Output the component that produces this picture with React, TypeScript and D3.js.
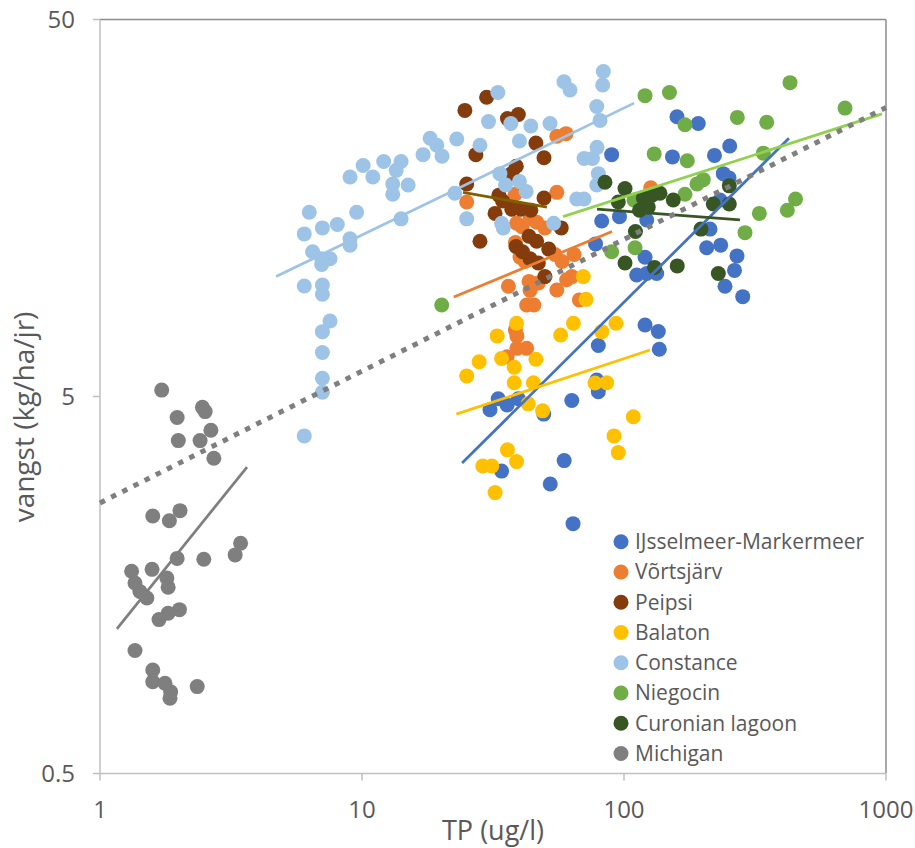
import React from "react";
import * as d3 from "d3";

// Lakes, in legend order
const lakes = [
  "IJsselmeer-Markermeer",
  "Võrtsjärv",
  "Peipsi",
  "Balaton",
  "Constance",
  "Niegocin",
  "Curonian lagoon",
  "Michigan",
];

// Observations per lake: [TP (ug/l), vangst (kg/ha/jr)]
const ijsselmeer = [
  [159.3, 27.6], [192.1, 26.5], [89.7, 21.9], [153.1, 21.6], [221.5, 21.8], [253.2, 23.1],
  [239.3, 19.5], [251.6, 19.0], [82.2, 14.6], [96.1, 15.0], [122.1, 14.7], [212.9, 13.9],
  [206.8, 12.4], [233.9, 12.6], [270.0, 11.8], [232.5, 16.6], [120.3, 11.7], [111.8, 10.5],
  [122.1, 10.6], [133.3, 10.6], [264.1, 10.8], [242.9, 9.8], [283.9, 9.2], [77.9, 12.7],
  [120.3, 7.74], [135.2, 7.44], [136.4, 6.67], [79.8, 6.83], [78.7, 5.53], [79.8, 5.15],
  [30.8, 4.61], [33.1, 4.93], [35.8, 4.75], [39.5, 4.93], [63.2, 4.88], [49.4, 4.49],
  [59.1, 3.38], [34.1, 3.17], [52.3, 2.93], [63.9, 2.3],
];
const vortsjarv = [
  [55.4, 24.5], [60.1, 24.9], [25.1, 16.4], [38.4, 17.2], [55.4, 17.4], [38.9, 14.4],
  [40.8, 14.1], [43.8, 14.8], [46.4, 14.5], [49.9, 14.0], [38.5, 12.8], [40.1, 11.7],
  [41.9, 11.4], [54.5, 11.9], [58.0, 11.4], [64.5, 11.9], [36.2, 9.8], [43.4, 10.1],
  [43.8, 9.55], [47.1, 10.0], [55.4, 9.58], [60.4, 10.2], [63.2, 10.4], [42.5, 8.74],
  [45.3, 8.74], [67.6, 9.02], [38.5, 7.51], [39.0, 7.24], [39.0, 6.71], [42.5, 6.71],
  [35.8, 6.37], [126.5, 17.9],
];
const peipsi = [
  [24.7, 28.7], [29.9, 31.1], [35.9, 27.3], [39.5, 28.0], [27.2, 21.9], [46.1, 23.5],
  [49.5, 21.5], [38.8, 20.4], [37.3, 19.5], [25.1, 18.3], [33.3, 17.1], [34.4, 16.5],
  [49.5, 16.8], [32.2, 15.3], [37.3, 15.7], [40.4, 15.7], [44.1, 15.6], [57.6, 14.0],
  [28.2, 12.9], [38.7, 12.5], [43.4, 13.3], [46.4, 12.9], [41.0, 12.1], [43.8, 11.6],
  [47.1, 11.3], [51.6, 12.3], [49.9, 10.4],
];
const balaton = [
  [69.9, 10.4], [71.6, 9.05], [38.9, 7.82], [64.1, 7.82], [57.3, 7.28], [93.2, 7.82],
  [82.2, 7.43], [32.8, 7.24], [28.0, 6.18], [34.1, 6.31], [46.1, 6.28], [25.1, 5.67],
  [38.1, 5.98], [38.1, 5.44], [45.1, 5.44], [77.5, 5.43], [85.9, 5.44], [43.1, 4.78],
  [48.9, 4.58], [108.5, 4.42], [91.6, 3.93], [95.1, 3.55], [35.9, 3.61], [38.9, 3.36],
  [28.9, 3.27], [31.3, 3.27], [32.2, 2.78],
];
const constance = [
  [18.2, 24.2], [19.3, 23.2], [17.1, 21.9], [20.2, 21.7], [23.0, 24.1], [14.1, 21.0],
  [12.1, 21.0], [10.1, 20.5], [13.5, 19.9], [11.0, 19.1], [9.0, 19.1], [13.1, 18.3],
  [15.0, 18.2], [13.1, 17.2], [22.6, 17.3], [6.29, 15.4], [9.54, 15.4], [14.1, 14.8],
  [6.02, 13.5], [7.06, 14.0], [8.05, 14.3], [9.0, 13.1], [9.0, 12.6], [6.48, 12.1],
  [7.55, 11.6], [7.02, 11.6], [7.02, 11.2], [6.02, 9.82], [7.06, 9.88], [7.06, 9.34],
  [7.55, 7.93], [7.06, 7.43], [7.06, 6.54], [7.06, 5.59], [7.06, 5.13], [6.02, 3.93],
  [33.0, 32.0], [30.4, 26.8], [37.0, 26.5], [44.1, 26.1], [52.2, 26.5], [59.0, 34.2],
  [62.2, 32.5], [28.2, 23.2], [39.9, 23.8], [33.6, 19.5], [35.3, 18.2], [39.9, 18.6],
  [42.3, 17.5], [25.1, 14.8], [34.1, 14.4], [34.6, 14.0], [53.9, 14.4], [83.4, 36.4],
  [82.9, 33.5], [78.7, 29.4], [81.0, 27.0], [70.4, 21.4], [78.9, 22.9], [75.8, 21.4],
  [79.8, 19.5], [78.7, 18.2], [66.0, 16.7], [70.4, 16.7],
];
const niegocin = [
  [120.3, 31.4], [149.1, 32.0], [430.2, 34.0], [697.5, 29.1], [170.9, 26.3], [270.7, 27.5],
  [350.5, 26.7], [130.4, 22.0], [174.4, 21.1], [340.2, 22.1], [189.9, 18.3], [200.7, 18.8],
  [170.9, 17.2], [109.2, 16.6], [451.5, 16.7], [420.1, 15.6], [328.5, 15.3], [289.6, 13.6],
  [110.2, 12.4], [89.7, 12.1], [20.15, 8.74],
];
const curonian = [
  [84.6, 18.5], [100.9, 17.8], [95.1, 16.4], [118.5, 16.8], [127.9, 17.1], [137.2, 17.3],
  [154.2, 16.6], [114.6, 15.6], [123.8, 15.9], [110.6, 13.7], [100.9, 11.3], [130.7, 11.0],
  [159.7, 11.1], [219.2, 16.2], [252.3, 16.2], [252.3, 18.1], [196.7, 13.9], [229.1, 10.6],
];
const michigan = [
  [1.72, 5.2], [1.97, 4.4], [2.46, 4.68], [2.52, 4.56], [2.65, 4.07], [1.99, 3.82],
  [2.41, 3.82], [2.72, 3.43], [1.59, 2.41], [1.84, 2.34], [2.02, 2.49], [3.44, 2.04],
  [3.28, 1.9], [1.97, 1.86], [2.49, 1.85], [1.32, 1.72], [1.58, 1.74], [1.8, 1.65],
  [1.82, 1.56], [1.36, 1.6], [1.42, 1.52], [1.51, 1.46], [2.01, 1.36], [1.82, 1.33],
  [1.68, 1.28], [1.36, 1.06], [1.59, 0.941], [1.59, 0.876], [1.77, 0.868], [1.86, 0.824],
  [1.85, 0.792], [2.35, 0.85],
];

// Power-law trend lines per lake, as start and end points
const trendIJsselmeer = [[24.1, 3.33], [426, 24.2]];
const trendVortsjarv = [[22.4, 9.18], [90.0, 13.7]];
const trendPeipsi = [[24.3, 17.4], [50.8, 15.9]];
const trendBalaton = [[22.9, 4.49], [125.7, 6.64]];
const trendConstance = [[4.7, 10.4], [109.2, 30.0]];
const trendNiegocin = [[58.5, 15.0], [965, 28.1]];
const trendCuronian = [[78.9, 15.7], [277, 14.7]];
const trendMichigan = [[1.16, 1.21], [3.64, 3.25]];
// Trend over all lakes together
const trendAll = [[1, 2.61], [1000, 29.2]];

// Axis ticks
const xTicks = [1, 10, 100, 1000];
const yTicks = [0.5, 5, 50];

const series = [ijsselmeer, vortsjarv, peipsi, balaton, constance, niegocin, curonian, michigan];
const trends = [
  trendIJsselmeer, trendVortsjarv, trendPeipsi, trendBalaton,
  trendConstance, trendNiegocin, trendCuronian, trendMichigan,
];
const markerColors = ["#4472C4", "#ED7D31", "#843C0C", "#FFC000", "#9DC3E6", "#70AD47", "#375623", "#7F7F7F"];
const trendColors = ["#4472C4", "#ED7D31", "#7F6000", "#FFC000", "#9DC3E6", "#92D050", "#375623", "#7F7F7F"];

const W = 915;
const H = 848;
const left = 100;
const right = 886;
const top = 19.5;
const bottom = 773.5;
const font = "'Open Sans', 'Noto Sans', sans-serif";
const textColor = "#595959";

export default function App() {
  const x = d3.scaleLog().domain([1, 1000]).range([left, right]);
  const y = d3.scaleLog().domain([0.5, 50]).range([bottom, top]);
  const line = d3
    .line<number[]>()
    .x((d) => x(d[0]))
    .y((d) => y(d[1]));

  return (
    <svg
      width={W}
      height={H}
      style={{ position: "absolute", left: 0, top: 0, background: "#fff" }}
      fontFamily={font}
    >
      <rect x={0} y={0} width={W} height={H} fill="#fff" />
      {/* plot frame */}
      <line x1={left} y1={top} x2={right} y2={top} stroke="#8c8c8c" strokeWidth={1.5} />
      <line x1={right} y1={top} x2={right} y2={bottom} stroke="#8c8c8c" strokeWidth={1.5} />
      <line x1={left} y1={top} x2={left} y2={bottom} stroke="#bfbfbf" strokeWidth={1.5} />
      <line x1={left} y1={bottom} x2={right} y2={bottom} stroke="#bfbfbf" strokeWidth={1.5} />

      {/* y axis ticks and labels */}
      {yTicks.map((t) => (
        <g key={"y" + t}>
          <line x1={left - 7} x2={left} y1={y(t)} y2={y(t)} stroke="#bfbfbf" strokeWidth={1.5} />
          <text x={75} y={y(t) + 8.5} textAnchor="end" fontSize={24} fill={textColor}>
            {t}
          </text>
        </g>
      ))}
      {/* x axis ticks and labels */}
      {xTicks.map((t) => (
        <g key={"x" + t}>
          <line x1={x(t)} x2={x(t)} y1={bottom} y2={bottom + 7} stroke="#bfbfbf" strokeWidth={1.5} />
          <text x={x(t)} y={818} textAnchor="middle" fontSize={24} fill={textColor}>
            {t}
          </text>
        </g>
      ))}

      {/* axis titles */}
      <text x={493} y={840} textAnchor="middle" fontSize={27} fill={textColor}>
        TP (ug/l)
      </text>
      <text
        transform="translate(34,417) rotate(-90)"
        textAnchor="middle"
        fontSize={28}
        fill={textColor}
      >
        vangst (kg/ha/jr)
      </text>

      {/* observations */}
      {series.map((pts, i) => (
        <g key={"s" + i} fill={markerColors[i]}>
          {pts.map((d, j) => (
            <circle key={j} cx={x(d[0])} cy={y(d[1])} r={7.5} />
          ))}
        </g>
      ))}

      {/* trend lines */}
      {trends.map((tr, i) => (
        <path key={"t" + i} d={line(tr) || ""} stroke={trendColors[i]} strokeWidth={2.75} fill="none" />
      ))}
      <path
        d={line(trendAll) || ""}
        stroke="#7F7F7F"
        strokeWidth={5}
        strokeDasharray="5.5 7"
        fill="none"
      />

      {/* legend */}
      {lakes.map((name, i) => (
        <g key={"l" + i} transform={`translate(621,${541.7 + i * 30.25})`}>
          <circle r={7.5} fill={markerColors[i]} />
          <text x={14} y={7.5} fontSize={21} fill={textColor}>
            {name}
          </text>
        </g>
      ))}
    </svg>
  );
}
